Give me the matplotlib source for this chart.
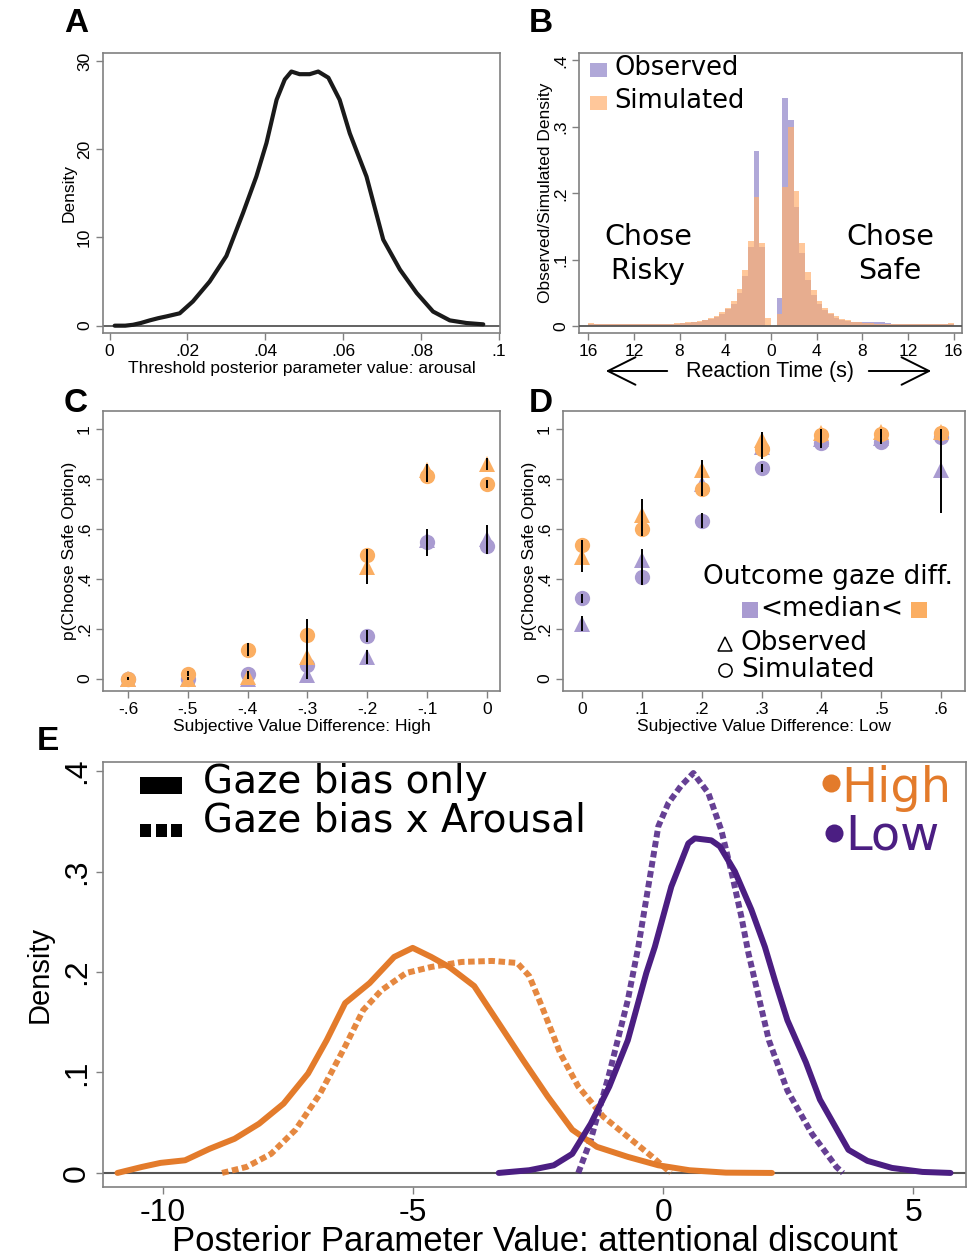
import matplotlib
matplotlib.use("Agg")
import matplotlib.pyplot as plt
import numpy as np
from matplotlib.patches import Rectangle, FancyArrowPatch
from matplotlib.lines import Line2D

plt.rcParams["axes.unicode_minus"] = False

# ---------------- data ----------------
# A: posterior density of the arousal threshold parameter
thr_x = [0.0013, 0.004, 0.006, 0.008, 0.0103, 0.0125, 0.0146, 0.018, 0.0214, 0.0257,
         0.030, 0.0343, 0.0377, 0.0403, 0.0429, 0.045, 0.0467, 0.0488, 0.0514, 0.0536,
         0.0562, 0.0591, 0.0617, 0.066, 0.0703, 0.0746, 0.0789, 0.0831, 0.0874, 0.0917, 0.096]
thr_y = [0.0, 0.0, 0.1, 0.3, 0.6, 0.85, 1.05, 1.4, 2.75, 5.0,
         7.9, 12.8, 16.9, 20.7, 25.6, 27.9, 28.8, 28.5, 28.5, 28.8,
         28.1, 25.6, 21.8, 16.9, 9.75, 6.35, 3.7, 1.6, 0.6, 0.3, 0.15]

# B: RT histograms, 0.5 s bins from 0 to 16 s (risky choices plotted to the left)
rt_bin = 0.5
risky_obs = [0.0, 0.12, 0.263, 0.12, 0.075, 0.05, 0.034, 0.026, 0.019, 0.014, 0.011, 0.009,
             0.007, 0.006, 0.005, 0.0045, 0.004, 0.004, 0.004, 0.0035, 0.003, 0.003, 0.003, 0.003,
             0.003, 0.003, 0.003, 0.003, 0.003, 0.003, 0.003, 0.003]
risky_sim = [0.012, 0.125, 0.194, 0.128, 0.084, 0.056, 0.038, 0.028, 0.021, 0.016, 0.012, 0.010,
             0.008, 0.007, 0.006, 0.005, 0.0045, 0.004, 0.004, 0.004, 0.004, 0.004, 0.004, 0.004,
             0.004, 0.004, 0.004, 0.004, 0.004, 0.004, 0.004, 0.005]
safe_obs = [0.0, 0.042, 0.344, 0.31, 0.18, 0.11, 0.07, 0.047, 0.033, 0.024, 0.018, 0.013,
            0.010, 0.008, 0.007, 0.007, 0.007, 0.007, 0.006, 0.006, 0.005, 0.004, 0.004, 0.003,
            0.003, 0.003, 0.003, 0.003, 0.003, 0.003, 0.003, 0.003]
safe_sim = [0.0, 0.018, 0.209, 0.299, 0.204, 0.126, 0.082, 0.054, 0.038, 0.028, 0.020, 0.015,
            0.011, 0.009, 0.007, 0.006, 0.005, 0.0045, 0.004, 0.004, 0.004, 0.004, 0.004, 0.004,
            0.004, 0.004, 0.004, 0.004, 0.004, 0.004, 0.004, 0.005]

# C: p(choose safe) vs subjective value difference, high arousal
svd_high = [-0.6, -0.5, -0.4, -0.3, -0.2, -0.1, 0.0]
c_hi_obs = [0.0, 0.0, 0.005, 0.087, 0.448, 0.835, 0.862]
c_hi_obs_lo = [0.0, 0.0, 0.0, 0.0, 0.38, 0.79, 0.835]
c_hi_obs_hi = [0.0, 0.0, 0.03, 0.237, 0.52, 0.86, 0.885]
c_hi_sim = [0.0, 0.02, 0.116, 0.174, 0.495, 0.811, 0.78]
c_hi_sim_se = [0.005, 0.01, 0.027, 0.02, 0.02, 0.02, 0.017]
c_lo_obs = [0.0, 0.0, 0.0, 0.013, 0.087, 0.555, 0.56]
c_lo_obs_lo = [0.0, 0.0, 0.0, 0.0, 0.06, 0.49, 0.50]
c_lo_obs_hi = [0.0, 0.0, 0.0, 0.05, 0.115, 0.60, 0.615]
c_lo_sim = [0.0, 0.0, 0.02, 0.053, 0.171, 0.548, 0.532]
c_lo_sim_se = [0.005, 0.005, 0.01, 0.01, 0.025, 0.02, 0.02]

# D: same, low arousal
svd_low = [0.0, 0.1, 0.2, 0.3, 0.4, 0.5, 0.6]
d_hi_obs = [0.488, 0.655, 0.838, 0.956, 0.985, 0.99, 0.99]
d_hi_obs_lo = [0.428, 0.59, 0.79, 0.90, 0.96, 0.97, 0.97]
d_hi_obs_hi = [0.557, 0.72, 0.876, 0.99, 1.0, 1.0, 1.0]
d_hi_sim = [0.537, 0.60, 0.762, 0.922, 0.975, 0.98, 0.985]
d_hi_sim_se = [0.02, 0.03, 0.03, 0.03, 0.02, 0.01, 0.01]
d_lo_obs = [0.22, 0.475, 0.78, 0.93, 0.96, 0.965, 0.836]
d_lo_obs_lo = [0.19, 0.374, 0.74, 0.88, 0.93, 0.95, 0.665]
d_lo_obs_hi = [0.25, 0.52, 0.82, 0.98, 0.99, 0.98, 1.0]
d_lo_sim = [0.321, 0.408, 0.632, 0.845, 0.943, 0.95, 0.969]
d_lo_sim_se = [0.02, 0.03, 0.03, 0.015, 0.02, 0.01, 0.01]

# E: posterior densities of the attentional discount
hi_only_x = [-10.91, -10.42, -10.05, -9.56, -9.07, -8.57, -8.08, -7.59, -7.1, -6.73, -6.36, -5.87,
             -5.38, -5.01, -4.64, -4.28, -3.78, -3.29, -2.8, -2.31, -1.82, -1.33, -0.71, -0.1,
             0.52, 1.25, 2.17]
hi_only_y = [0.0, 0.006, 0.010, 0.0126, 0.024, 0.034, 0.049, 0.069, 0.099, 0.132, 0.169, 0.189,
             0.215, 0.224, 0.215, 0.205, 0.186, 0.149, 0.112, 0.076, 0.043, 0.026, 0.016, 0.0076,
             0.0027, 0.0003, 0.0]
hi_arou_x = [-8.82, -8.33, -7.84, -7.35, -6.86, -6.36, -6.0, -5.63, -5.14, -4.64, -4.03, -3.42,
             -2.92, -2.68, -2.43, -2.06, -1.7, -1.2, -0.71, -0.22, 0.15]
hi_arou_y = [0.0, 0.006, 0.019, 0.043, 0.079, 0.126, 0.162, 0.182, 0.199, 0.205, 0.21, 0.211,
             0.209, 0.196, 0.166, 0.119, 0.086, 0.056, 0.036, 0.016, 0.0]
lo_only_x = [-3.29, -2.68, -2.19, -1.82, -1.45, -1.08, -0.71, -0.34, -0.17, 0.16, 0.5, 0.63,
             0.96, 1.13, 1.43, 1.76, 2.03, 2.24, 2.48, 2.85, 3.13, 3.7, 4.08, 4.57, 5.18, 5.74]
lo_only_y = [0.0, 0.0027, 0.0076, 0.019, 0.049, 0.086, 0.132, 0.199, 0.225, 0.285, 0.328, 0.333,
             0.331, 0.325, 0.30, 0.262, 0.225, 0.19, 0.152, 0.11, 0.073, 0.023, 0.012, 0.005,
             0.001, 0.0]
lo_arou_x = [-1.7, -1.45, -1.08, -0.71, -0.5, -0.1, 0.1, 0.35, 0.6, 0.9, 1.16, 1.36, 1.56, 1.7,
             2.11, 2.48, 2.97, 3.46, 3.59]
lo_arou_y = [0.0, 0.033, 0.099, 0.172, 0.225, 0.345, 0.368, 0.385, 0.398, 0.378, 0.341, 0.30,
             0.255, 0.219, 0.132, 0.082, 0.039, 0.006, 0.0]

# ---------------- style ----------------
ORANGE = "#E37B2B"
PURPLE = "#4B1E82"
LT_OR = "#FBAE62"
LT_PU = "#A99BD1"
H_PU = "#B0A8D8"
H_OR = "#FFB070"
FRAME = "#808080"
SANS = ["Liberation Sans", "DejaVu Sans"]
VERD = ["DejaVu Sans"]

W, H = 968, 1256
fig = plt.figure(figsize=(W / 100, H / 100), dpi=100)


def box(l, t, r, b):
    return [l / W, 1 - b / H, (r - l) / W, (b - t) / H]


def fx(px):
    return px / W


def fy(py):
    return 1 - py / H


def stata(ax, fs=12.5):
    for s in ax.spines.values():
        s.set_color(FRAME)
        s.set_linewidth(1.2)
    ax.tick_params(direction="out", length=5, width=1, color=FRAME, labelsize=fs, pad=3)
    for lab in ax.get_xticklabels() + ax.get_yticklabels():
        lab.set_family(SANS)
    for lab in ax.get_yticklabels():
        lab.set_rotation(90)
        lab.set_va("center")


def dec(v):
    s = ("%g" % v)
    return s.replace("0.", ".") if s not in ("0", "1") else s


# ---------------- A ----------------
axA = fig.add_axes(box(103, 53, 500, 333))
axA.axhline(0, color="#555555", lw=1.3, zorder=1)
axA.plot(thr_x, thr_y, color="#1a1a1a", lw=3.0, solid_capstyle="round", solid_joinstyle="round", zorder=3)
axA.set_xlim(-0.0017, 0.1003)
axA.set_ylim(-0.83, 30.9)
axA.set_xticks([0, 0.02, 0.04, 0.06, 0.08, 0.1])
axA.set_xticklabels(["0", ".02", ".04", ".06", ".08", ".1"])
axA.set_yticks([0, 10, 20, 30])
stata(axA)
axA.set_xlabel("Threshold posterior parameter value: arousal", family=SANS, fontsize=12.5, labelpad=1)
axA.set_ylabel("Density", family=SANS, fontsize=12.5, labelpad=0)

# ---------------- B ----------------
axB = fig.add_axes(box(579, 53, 962, 333))
edges = np.arange(0, 16 + rt_bin, rt_bin)
left_edges = edges[:-1]
axB.bar(-left_edges, risky_obs, width=-rt_bin, align="edge", color=H_PU, lw=0, zorder=2)
axB.bar(left_edges, safe_obs, width=rt_bin, align="edge", color=H_PU, lw=0, zorder=2)
axB.bar(-left_edges, risky_sim, width=-rt_bin, align="edge", color=H_OR, alpha=0.7, lw=0, zorder=3)
axB.bar(left_edges, safe_sim, width=rt_bin, align="edge", color=H_OR, alpha=0.7, lw=0, zorder=3)
axB.axhline(0, color="#555555", lw=1.3, zorder=4)
axB.set_xlim(-16.8, 16.73)
axB.set_ylim(-0.01, 0.411)
bt = [-16, -12, -8, -4, 0, 4, 8, 12, 16]
axB.set_xticks(bt)
axB.set_xticklabels([str(abs(t)) for t in bt])
axB.set_yticks([0, 0.1, 0.2, 0.3, 0.4])
axB.set_yticklabels(["0", ".1", ".2", ".3", ".4"])
stata(axB)
axB.set_ylabel("Observed/Simulated Density", family=SANS, fontsize=12.5, labelpad=0)
fig.text(fx(770), fy(371), "Reaction Time (s)", family=SANS, fontsize=15.5, ha="center", va="center")
fig.patches.append(Rectangle((fx(590), fy(77)), 17 / W, 14 / H, transform=fig.transFigure,
                             color=H_PU, lw=0))
fig.patches.append(Rectangle((fx(590), fy(110)), 17 / W, 14 / H, transform=fig.transFigure,
                             color=H_OR, alpha=0.7, lw=0))
fig.text(fx(614), fy(68), "Observed", family=VERD, fontsize=18.5, va="center")
fig.text(fx(614), fy(101), "Simulated", family=VERD, fontsize=18.5, va="center")
fig.text(fx(648), fy(254), "Chose\nRisky", family=VERD, fontsize=20.5, ha="center", va="center",
         linespacing=1.3)
fig.text(fx(890), fy(254), "Chose\nSafe", family=VERD, fontsize=20.5, ha="center", va="center",
         linespacing=1.3)
arr = dict(arrowstyle="->, head_length=0.9, head_width=0.45", color="black", lw=1.4)
fig.add_artist(FancyArrowPatch((fx(670), fy(371)), (fx(603), fy(371)),
                               transform=fig.transFigure, mutation_scale=22, **arr))
fig.add_artist(FancyArrowPatch((fx(866), fy(371)), (fx(934), fy(371)),
                               transform=fig.transFigure, mutation_scale=22, **arr))


# ---------------- C & D ----------------
def choice_panel(ax, xs, hi_obs, hi_lo, hi_hi, hi_sim, hi_se, lo_obs, lo_lo, lo_hi, lo_sim, lo_se):
    ax.plot(xs, lo_obs, "^", color=LT_PU, ms=12, mew=0, zorder=2)
    ax.plot(xs, lo_sim, "o", color=LT_PU, ms=11, mew=0, zorder=2)
    ax.plot(xs, hi_obs, "^", color=LT_OR, ms=12, mew=0, zorder=3)
    ax.plot(xs, hi_sim, "o", color=LT_OR, ms=11, mew=0, zorder=3)
    ax.vlines(xs, lo_lo, lo_hi, color="black", lw=1.4, zorder=4)
    ax.vlines(xs, np.array(lo_sim) - lo_se, np.array(lo_sim) + lo_se, color="black", lw=1.4, zorder=4)
    ax.vlines(xs, hi_lo, hi_hi, color="black", lw=1.4, zorder=4)
    ax.vlines(xs, np.array(hi_sim) - hi_se, np.array(hi_sim) + hi_se, color="black", lw=1.4, zorder=4)
    ax.set_ylim(-0.05, 1.073)
    ax.set_yticks([0, 0.2, 0.4, 0.6, 0.8, 1.0])
    ax.set_yticklabels(["0", ".2", ".4", ".6", ".8", "1"])
    ax.set_xticks(xs)
    ax.set_xticklabels([dec(v) for v in xs])
    stata(ax)
    ax.set_ylabel("p(Choose Safe Option)", family=SANS, fontsize=12.5, labelpad=0)


axC = fig.add_axes(box(103, 411, 500, 691))
choice_panel(axC, svd_high, c_hi_obs, c_hi_obs_lo, c_hi_obs_hi, c_hi_sim, c_hi_sim_se,
             c_lo_obs, c_lo_obs_lo, c_lo_obs_hi, c_lo_sim, c_lo_sim_se)
axC.set_xlim(-0.642, 0.022)
axC.set_xlabel("Subjective Value Difference: High", family=SANS, fontsize=12.5, labelpad=1)

axD = fig.add_axes(box(563, 411, 965, 691))
choice_panel(axD, svd_low, d_hi_obs, d_hi_obs_lo, d_hi_obs_hi, d_hi_sim, d_hi_sim_se,
             d_lo_obs, d_lo_obs_lo, d_lo_obs_hi, d_lo_sim, d_lo_sim_se)
axD.set_xlim(-0.032, 0.64)
axD.set_xlabel("Subjective Value Difference: Low", family=SANS, fontsize=12.5, labelpad=1)

fig.text(fx(703), fy(577), "Outcome gaze diff.", family=VERD, fontsize=19, va="center")
fig.patches.append(Rectangle((fx(742), fy(618)), 16 / W, 16 / H, transform=fig.transFigure,
                             color=LT_PU, lw=0))
fig.patches.append(Rectangle((fx(911), fy(618)), 16 / W, 16 / H, transform=fig.transFigure,
                             color=LT_OR, lw=0))
fig.text(fx(760), fy(609), "<median<", family=VERD, fontsize=19, va="center")
fig.text(fx(741), fy(643), "Observed", family=VERD, fontsize=19, va="center")
fig.text(fx(741), fy(670), "Simulated", family=VERD, fontsize=19, va="center")
fig.lines.append(Line2D([fx(725)], [fy(644)], marker="^", ms=10, mfc="none",
                        mec="black", mew=1.1, transform=fig.transFigure))
fig.lines.append(Line2D([fx(725)], [fy(670)], marker="o", ms=9.5, mfc="none",
                        mec="black", mew=1.1, transform=fig.transFigure))

# ---------------- E ----------------
axE = fig.add_axes(box(103, 762, 966, 1187))
axE.axhline(0, color="#555555", lw=1.5, zorder=1)
dash = (0, (1.1, 0.6))
LW = 4.3
axE.plot(hi_only_x, hi_only_y, color=ORANGE, lw=LW, solid_capstyle="round", solid_joinstyle="round", zorder=3)
axE.plot(hi_arou_x, hi_arou_y, color=ORANGE, lw=LW, ls=dash, alpha=0.9, zorder=2)
axE.plot(lo_only_x, lo_only_y, color=PURPLE, lw=LW, solid_capstyle="round", solid_joinstyle="round", zorder=3)
axE.plot(lo_arou_x, lo_arou_y, color=PURPLE, lw=LW, ls=dash, alpha=0.85, zorder=2)
axE.set_xlim(-11.2, 6.05)
axE.set_ylim(-0.014, 0.409)
axE.set_xticks([-10, -5, 0, 5])
axE.set_yticks([0, 0.1, 0.2, 0.3, 0.4])
axE.set_yticklabels(["0", ".1", ".2", ".3", ".4"])
stata(axE, fs=23)
axE.set_xlabel("Posterior Parameter Value: attentional discount", family=SANS, fontsize=25, labelpad=-2)
axE.set_ylabel("Density", family=SANS, fontsize=21, labelpad=6)

fig.patches.append(Rectangle((fx(140), fy(794)), 42 / W, 17 / H, transform=fig.transFigure,
                             color="black", lw=0))
for x0 in (140, 155.5, 171):
    fig.patches.append(Rectangle((fx(x0), fy(837)), 11 / W, 13 / H, transform=fig.transFigure,
                                 color="black", lw=0))
fig.text(fx(203), fy(782), "Gaze bias only", family=VERD, fontsize=28, va="center")
fig.text(fx(203), fy(820), "Gaze bias x Arousal", family=VERD, fontsize=28, va="center")
fig.lines.append(Line2D([fx(831)], [fy(783)], marker="o", ms=13, color=ORANGE,
                        mew=0, transform=fig.transFigure))
fig.lines.append(Line2D([fx(834)], [fy(833)], marker="o", ms=13, color=PURPLE,
                        mew=0, transform=fig.transFigure))
fig.text(fx(841), fy(789), "High", family=VERD, fontsize=34.5, color=ORANGE, va="center")
fig.text(fx(845), fy(836), "Low", family=VERD, fontsize=34.5, color=PURPLE, va="center")

# panel letters
for lab, px, py in [("A", 76, 23), ("B", 541, 23), ("C", 76, 403), ("D", 541, 403), ("E", 48, 742)]:
    fig.text(fx(px), fy(py), lab, family=SANS, fontsize=24, fontweight="bold", ha="center", va="center")

fig.savefig("out.png", dpi=100)
